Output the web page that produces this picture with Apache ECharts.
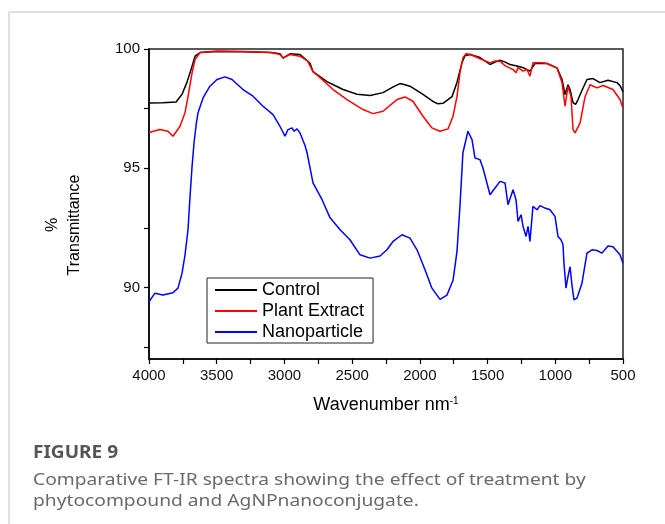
<!DOCTYPE html>
<html lang="en">
<head>
<meta charset="UTF-8">
<title>FT-IR spectra</title>
<script src="https://cdn.jsdelivr.net/npm/echarts@6/dist/echarts.min.js"></script>
<style>
  html, body { margin: 0; padding: 0; background: #fff; }
  #chart { width: 665px; height: 524px; }
</style>
</head>
<body>
<div id="chart"></div>
<script>
// wavenumbers (cm-1) and % transmittance
var controlWn = [4000, 3900, 3800, 3786, 3756, 3720, 3697, 3660, 3623, 3500, 3300, 3100, 3033, 3010, 2959, 2885, 2850, 2811, 2789, 2740, 2686, 2620, 2567, 2464, 2368, 2272, 2200, 2147, 2110, 2073, 1977, 1903, 1866, 1829, 1763, 1726, 1689, 1667, 1630, 1556, 1482, 1445, 1408, 1370, 1334, 1275, 1230, 1187, 1150, 1100, 1061, 987, 950, 928, 906, 891, 869, 850, 832, 800, 766, 721, 670, 611, 544, 520, 500];
var controlT = [97.74, 97.75, 97.78, 97.85, 98.1, 98.6, 99.0, 99.7, 99.85, 99.9, 99.88, 99.85, 99.8, 99.62, 99.8, 99.77, 99.6, 99.4, 99.05, 98.85, 98.63, 98.45, 98.3, 98.1, 98.05, 98.17, 98.4, 98.55, 98.5, 98.44, 98.1, 97.8, 97.7, 97.72, 98.0, 98.6, 99.43, 99.72, 99.77, 99.64, 99.35, 99.45, 99.53, 99.45, 99.35, 99.28, 99.2, 99.07, 99.39, 99.4, 99.39, 99.2, 98.72, 98.09, 98.5, 98.3, 97.75, 97.68, 97.88, 98.3, 98.72, 98.76, 98.59, 98.69, 98.59, 98.45, 98.2];

var plantWn = [4000, 3919, 3860, 3823, 3771, 3734, 3712, 3682, 3660, 3623, 3500, 3300, 3100, 3033, 3010, 2959, 2885, 2830, 2789, 2737, 2641, 2538, 2420, 2346, 2272, 2169, 2110, 2051, 1977, 1911, 1851, 1792, 1755, 1726, 1704, 1682, 1660, 1630, 1556, 1482, 1445, 1408, 1371, 1334, 1312, 1290, 1275, 1238, 1209, 1187, 1165, 1100, 1061, 987, 950, 928, 906, 884, 869, 854, 817, 780, 743, 692, 647, 574, 522, 500];
var plantT = [96.5, 96.62, 96.55, 96.34, 96.76, 97.33, 98.0, 99.0, 99.56, 99.85, 99.92, 99.9, 99.85, 99.77, 99.63, 99.77, 99.7, 99.5, 99.05, 98.8, 98.3, 97.88, 97.46, 97.29, 97.39, 97.88, 97.99, 97.81, 97.18, 96.69, 96.55, 96.65, 97.18, 98.0, 99.0, 99.63, 99.8, 99.78, 99.59, 99.42, 99.5, 99.49, 99.3, 99.2, 99.14, 99.0, 99.22, 99.07, 99.14, 98.86, 99.42, 99.42, 99.39, 99.21, 98.58, 97.6, 98.44, 98.02, 96.62, 96.48, 96.9, 98.0, 98.5, 98.37, 98.47, 98.3, 97.88, 97.51];

var nanoWn = [4000, 3956, 3897, 3823, 3786, 3756, 3734, 3712, 3697, 3682, 3667, 3650, 3638, 3601, 3550, 3498, 3439, 3387, 3306, 3232, 3158, 3084, 3033, 2996, 2974, 2944, 2929, 2907, 2885, 2848, 2833, 2789, 2722, 2663, 2589, 2516, 2442, 2368, 2294, 2243, 2198, 2132, 2073, 2021, 1962, 1911, 1851, 1800, 1755, 1726, 1704, 1682, 1645, 1615, 1593, 1556, 1534, 1482, 1445, 1408, 1371, 1349, 1312, 1290, 1275, 1253, 1238, 1216, 1201, 1187, 1165, 1135, 1113, 1076, 1039, 1002, 980, 958, 943, 936, 921, 906, 891, 877, 862, 840, 803, 766, 729, 692, 655, 611, 574, 522, 500];
var nanoT = [89.4, 89.76, 89.68, 89.78, 89.97, 90.6, 91.37, 92.42, 93.82, 95.08, 96.1, 96.9, 97.33, 97.95, 98.44, 98.72, 98.83, 98.72, 98.3, 98.02, 97.6, 97.25, 96.76, 96.34, 96.62, 96.69, 96.55, 96.65, 96.48, 95.95, 95.65, 94.39, 93.68, 92.92, 92.42, 92.0, 91.37, 91.23, 91.32, 91.58, 91.93, 92.21, 92.07, 91.58, 90.74, 89.97, 89.5, 89.68, 90.3, 91.5, 93.4, 95.65, 96.55, 96.2, 95.43, 95.36, 95.01, 93.89, 94.17, 94.45, 94.38, 93.47, 94.1, 93.68, 92.77, 93.05, 92.56, 92.14, 92.56, 91.93, 93.4, 93.26, 93.43, 93.33, 93.26, 92.98, 92.14, 92.0, 91.79, 91.02, 89.97, 90.46, 90.87, 90.11, 89.48, 89.55, 90.18, 91.44, 91.58, 91.55, 91.44, 91.74, 91.71, 91.37, 91.02];

var yTicks = [87.5, 90, 92.5, 95, 97.5, 100];
var yLabels = [90, 95, 100];

function pairs(xs, ys) {
  return xs.map(function (x, i) { return [x, ys[i]]; });
}

var arial = '"Liberation Sans", Arial, sans-serif';
var chart = echarts.init(document.getElementById('chart'));

chart.setOption({
  backgroundColor: '#fff',
  animation: false,
  grid: { left: 149, right: 42, top: 49, bottom: 165, show: true, borderColor: '#222', borderWidth: 1.5 },
  legend: {
    left: 207, top: 278, orient: 'vertical',
    padding: [3, 9, 2, 8],
    icon: 'rect', itemWidth: 42, itemHeight: 2, itemGap: 3,
    backgroundColor: '#fff', borderColor: '#222', borderWidth: 1,
    textStyle: { fontFamily: arial, fontSize: 18, color: '#000' },
    data: ['Control', 'Plant Extract', 'Nanoparticle']
  },
  xAxis: {
    type: 'value', inverse: true, min: 500, max: 4000, interval: 250,
    axisLine: { lineStyle: { color: '#000', width: 1.5 } },
    axisTick: { inside: false, length: 5, lineStyle: { color: '#000', width: 1.2 } },
    axisLabel: {
      margin: 9, color: '#111', fontFamily: arial, fontSize: 15,
      formatter: function (v) { return v % 500 === 0 ? String(v) : ''; }
    },
    splitLine: { show: false }
  },
  yAxis: {
    type: 'value', min: 87, max: 100,
    axisLine: { show: true, lineStyle: { color: '#000', width: 1.5 } },
    axisTick: { show: true, length: 5, customValues: yTicks, lineStyle: { color: '#000', width: 1.2 } },
    axisLabel: { margin: 9, color: '#111', fontFamily: arial, fontSize: 15, customValues: yLabels },
    splitLine: { show: false }
  },
  series: [
    { name: 'Control', type: 'line', symbol: 'none', data: pairs(controlWn, controlT),
      lineStyle: { color: '#000', width: 1.5 }, itemStyle: { color: '#000' } },
    { name: 'Plant Extract', type: 'line', symbol: 'none', data: pairs(plantWn, plantT),
      lineStyle: { color: '#ff0000', width: 1.5 }, itemStyle: { color: '#ff0000' } },
    { name: 'Nanoparticle', type: 'line', symbol: 'none', data: pairs(nanoWn, nanoT),
      lineStyle: { color: '#0000ff', width: 1.5 }, itemStyle: { color: '#0000ff' } }
  ],
  graphic: [
    // card border
    { type: 'line', shape: { x1: 9, y1: 12, x2: 665, y2: 12 }, style: { stroke: '#d6d6d6', lineWidth: 1.5 } },
    { type: 'line', shape: { x1: 9, y1: 12, x2: 9, y2: 524 }, style: { stroke: '#d6d6d6', lineWidth: 1.5 } },
    // y axis title
    { type: 'text', x: 53, y: 225, rotation: Math.PI / 2,
      style: { text: '%', font: '16px ' + arial, fill: '#000', align: 'center', verticalAlign: 'middle' } },
    { type: 'text', x: 75, y: 225, rotation: Math.PI / 2,
      style: { text: 'Transmittance', font: '16px ' + arial, fill: '#000', align: 'center', verticalAlign: 'middle' } },
    // x axis title
    { type: 'text', x: 386, y: 405,
      style: {
        text: '{a|Wavenumber nm}{b|-1}', align: 'center', verticalAlign: 'middle',
        rich: {
          a: { fontFamily: arial, fontSize: 18, color: '#000' },
          b: { fontFamily: arial, fontSize: 10, color: '#000', verticalAlign: 'top' }
        }
      } },
    // caption
    { type: 'text', x: 33, y: 453, scaleX: 1.12,
      style: { text: 'FIGURE 9', font: 'bold 17px "Noto Sans", sans-serif', fill: '#555', verticalAlign: 'middle' } },
    { type: 'text', x: 33, y: 470, scaleX: 1.13,
      style: {
        text: 'Comparative FT-IR spectra showing the effect of treatment by\nphytocompound and AgNPnanoconjugate.',
        font: '17px "Noto Sans", sans-serif', fill: '#6a6a6a', lineHeight: 21, verticalAlign: 'top'
      } }
  ]
});
</script>
</body>
</html>
